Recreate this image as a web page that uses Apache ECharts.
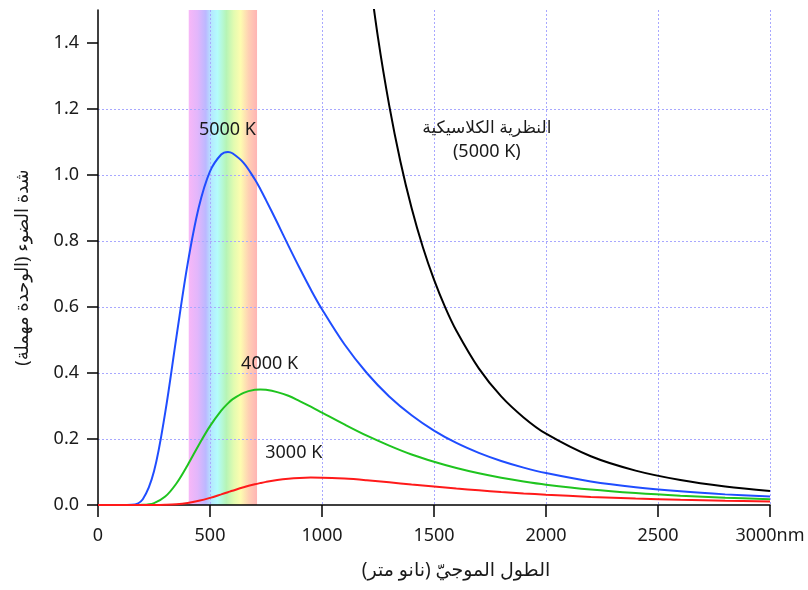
<!DOCTYPE html>
<html>
<head>
<meta charset="utf-8">
<script src="https://cdn.jsdelivr.net/npm/echarts@6/dist/echarts.min.js"></script>
<style>
  html, body { margin: 0; padding: 0; background: #fff; }
  #main { width: 808px; height: 590px; }
</style>
</head>
<body>
<div id="main"></div>
<script>
// wavelengths (nm) shared by the three Planck curves
const wavelengths = [0, 100, 150, 200, 250, 300, 350, 400, 450, 500, 550, 580, 600, 650, 700, 725, 750,
  800, 850, 900, 950, 1000, 1100, 1200, 1300, 1400, 1500, 1600, 1700, 1800, 1900, 2000,
  2200, 2400, 2600, 2800, 3000];

const t5000 = [0, 0, 0.0006, 0.0175, 0.102, 0.280, 0.509, 0.730, 0.902, 1.011, 1.062, 1.070, 1.066, 1.037, 0.987, 0.957, 0.924,
  0.856, 0.786, 0.718, 0.653, 0.593, 0.487, 0.400, 0.329, 0.272, 0.2255, 0.188, 0.158, 0.1334, 0.1133, 0.0967,
  0.0715, 0.0539, 0.0414, 0.0322, 0.0254];

const t4000 = [0, 0, 0, 0.0005, 0.0058, 0.0254, 0.0652, 0.1208, 0.182, 0.239, 0.286, 0.308, 0.320, 0.340, 0.349, 0.350, 0.349,
  0.342, 0.331, 0.315, 0.298, 0.280, 0.244, 0.210, 0.180, 0.153, 0.131, 0.112, 0.096, 0.0826, 0.0713, 0.0617,
  0.0468, 0.0360, 0.0280, 0.0221, 0.0177];

const t3000 = [0, 0, 0, 0, 0, 0.0005, 0.0021, 0.0060, 0.0127, 0.0217, 0.0323, 0.0388, 0.0432, 0.0536, 0.0627, 0.0666, 0.0701,
  0.0758, 0.0798, 0.0821, 0.0831, 0.0829, 0.0800, 0.0749, 0.0687, 0.0622, 0.0558, 0.0498, 0.0444, 0.0394, 0.0350, 0.0311,
  0.0246, 0.0196, 0.0157, 0.0127, 0.0104];

// classical (Rayleigh-Jeans) curve, 5000 K
const classicalWl = [1200, 1250, 1300, 1350, 1400, 1450, 1500, 1550, 1600, 1700, 1800, 1900, 2000,
  2200, 2400, 2600, 2800, 3000];
const classical = [1.668, 1.416, 1.211, 1.041, 0.900, 0.782, 0.683, 0.599, 0.528, 0.414, 0.329, 0.2654, 0.216,
  0.1476, 0.1042, 0.0757, 0.0563, 0.0427];

const visibleBand = [405, 710];
const xTicks = [0, 500, 1000, 1500, 2000, 2500, 3000];
const yTicks = [0, 0.2, 0.4, 0.6, 0.8, 1.0, 1.2, 1.4];

const pairs = (xs, ys) => xs.map((x, i) => [x, ys[i]]);

const FONT = "'Noto Sans', 'DejaVu Sans', sans-serif";
const gridLine = { show: true, lineStyle: { color: '#a8a8ff', type: [2, 2], width: 1 } };

const chart = echarts.init(document.getElementById('main'));

function curve(name, wl, vals, color, label, coord) {
  return {
    name: name,
    type: 'line',
    data: pairs(wl, vals),
    smooth: 0.35,
    symbol: 'none',
    z: 3,
    lineStyle: { color: color, width: 2 },
    markPoint: {
      silent: true,
      symbol: 'circle',
      symbolSize: 0,
      label: {
        show: true,
        position: 'inside',
        formatter: label,
        color: '#1a1a1a',
        fontFamily: FONT,
        fontSize: 18,
        lineHeight: 24,
        rich: { ar: { fontFamily: FONT, fontSize: 17, color: '#1a1a1a' } }
      },
      data: [{ coord: coord }]
    }
  };
}

const option = {
  animation: false,
  grid: { left: 98, right: 38, top: 10, bottom: 85 },
  xAxis: {
    type: 'value',
    min: 0,
    max: 3000,
    interval: 500,
    z: 2,
    name: 'الطول الموجيّ (نانو متر)',
    nameLocation: 'middle',
    nameGap: 56,
    nameTextStyle: { fontFamily: FONT, fontSize: 19, color: '#1a1a1a', padding: [0, 0, 0, 44] },
    axisLine: { lineStyle: { color: '#000', width: 1.5 } },
    axisTick: { length: 12, lineStyle: { color: '#000', width: 1.5 } },
    axisLabel: {
      margin: 22,
      fontFamily: FONT,
      fontSize: 18,
      color: '#1a1a1a',
      formatter: v => (v === 3000 ? '3000nm' : String(v)),
      customValues: xTicks
    },
    splitLine: Object.assign({ showMinLine: false }, gridLine)
  },
  yAxis: {
    type: 'value',
    min: 0,
    max: 1.5,
    interval: 0.2,
    z: 2,
    name: 'شدة الضوء (الوحدة مهملة)',
    nameLocation: 'middle',
    nameGap: 66,
    nameTextStyle: { fontFamily: FONT, fontSize: 18, color: '#1a1a1a', padding: [0, 20, 0, 0] },
    axisLine: { lineStyle: { color: '#000', width: 1.5 } },
    axisTick: { length: 11, lineStyle: { color: '#000', width: 1.5 }, customValues: yTicks },
    axisLabel: {
      margin: 19,
      fontFamily: FONT,
      fontSize: 18,
      color: '#1a1a1a',
      formatter: v => v.toFixed(1),
      customValues: yTicks
    },
    splitLine: Object.assign({ showMinLine: false, showMaxLine: false }, gridLine)
  },
  series: [
    {
      name: 'visible',
      type: 'line',
      data: [],
      z: 1,
      silent: true,
      markArea: {
        silent: true,
        itemStyle: {
          color: new echarts.graphic.LinearGradient(0, 0, 1, 0, [
            { offset: 0.0, color: '#f7b7f7' },
            { offset: 0.13, color: '#e2b6fb' },
            { offset: 0.25, color: '#bcb8ff' },
            { offset: 0.33, color: '#b4e8ff' },
            { offset: 0.42, color: '#b4fcfc' },
            { offset: 0.55, color: '#b6f4b6' },
            { offset: 0.66, color: '#e2fbb0' },
            { offset: 0.76, color: '#fdfcb0' },
            { offset: 0.88, color: '#ffcfb4' },
            { offset: 1.0, color: '#ffb4b4' }
          ])
        },
        data: [[{ xAxis: visibleBand[0], yAxis: 0 }, { xAxis: visibleBand[1], yAxis: 1.5 }]]
      }
    },
    curve('classical', classicalWl, classical, '#000000', '{ar|النظرية الكلاسيكية}\n(5000 K)', [1736, 1.105]),
    curve('5000 K', wavelengths, t5000, '#1f4dff', '5000 K', [578, 1.136]),
    curve('4000 K', wavelengths, t4000, '#1fc41f', '4000 K', [766, 0.428]),
    curve('3000 K', wavelengths, t3000, '#ff1a1a', '3000 K', [874, 0.158])
  ]
};

chart.setOption(option);
</script>
</body>
</html>
